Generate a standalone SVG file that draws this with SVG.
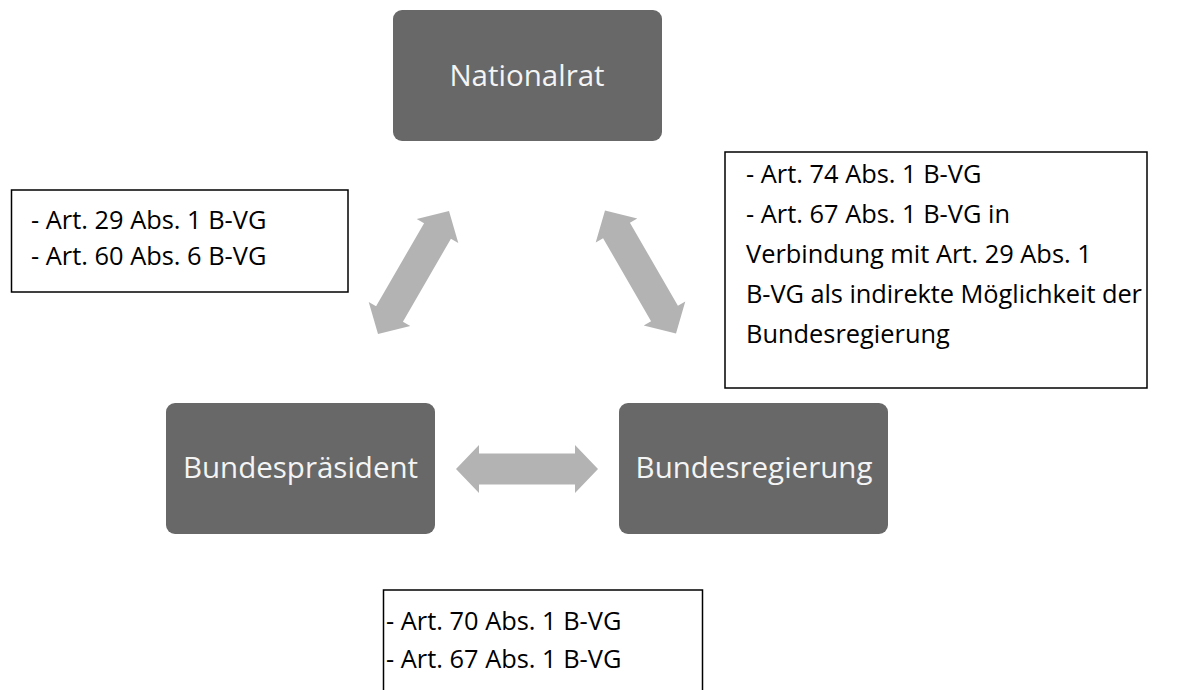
<svg xmlns="http://www.w3.org/2000/svg" width="1180" height="690" viewBox="0 0 1180 690">
<defs>
<style>
.node{fill:#686868}
.nlabel{font-family:"Open Sans","Liberation Sans",sans-serif;font-size:29.5px;fill:#f4f4f4;text-anchor:middle}
.box{fill:#ffffff;stroke:#000000;stroke-width:1.5}
.btext{font-family:"Open Sans","Liberation Sans",sans-serif;font-size:25.4px;fill:#000000}
.arrow{fill:#b3b3b3}
</style>
<polygon id="dblarrow" points="-71,0 -48,-24 -48,-15.5 48,-15.5 48,-24 71,0 48,24 48,15.5 -48,15.5 -48,24"/>
</defs>
<rect width="1180" height="690" fill="#ffffff"/>
<g id="connectors" class="arrow">
<use href="#dblarrow" transform="translate(413.5,272.5) rotate(-60)"/>
<use href="#dblarrow" transform="translate(640.5,272) rotate(60)"/>
<use href="#dblarrow" transform="translate(527,469)"/>
</g>
<g id="node-nationalrat">
<rect class="node" x="393" y="10" width="269" height="131" rx="9"/>
<text class="nlabel" x="527" y="86">Nationalrat</text>
</g>
<g id="node-bundespraesident">
<rect class="node" x="166" y="403" width="269" height="131" rx="9"/>
<text class="nlabel" x="300.5" y="478">Bundespräsident</text>
</g>
<g id="node-bundesregierung">
<rect class="node" x="619" y="403" width="269" height="131" rx="9"/>
<text class="nlabel" x="754" y="478">Bundesregierung</text>
</g>
<g id="note-left">
<rect class="box" x="11.5" y="190" width="336.5" height="102"/>
<text class="btext" x="31" y="229">- Art. 29 Abs. 1 B-VG</text>
<text class="btext" x="31" y="265">- Art. 60 Abs. 6 B-VG</text>
</g>
<g id="note-right">
<rect class="box" x="725" y="152" width="422" height="236"/>
<text class="btext" x="746" y="183">- Art. 74 Abs. 1 B-VG</text>
<text class="btext" x="746" y="223">- Art. 67 Abs. 1 B-VG in</text>
<text class="btext" x="746" y="263">Verbindung mit Art. 29 Abs. 1</text>
<text class="btext" x="746" y="303" textLength="396" lengthAdjust="spacing">B-VG als indirekte Möglichkeit der</text>
<text class="btext" x="746" y="343">Bundesregierung</text>
</g>
<g id="note-bottom">
<rect class="box" x="383.5" y="590" width="319" height="110"/>
<text class="btext" x="386" y="630">- Art. 70 Abs. 1 B-VG</text>
<text class="btext" x="386" y="668">- Art. 67 Abs. 1 B-VG</text>
</g>
</svg>
